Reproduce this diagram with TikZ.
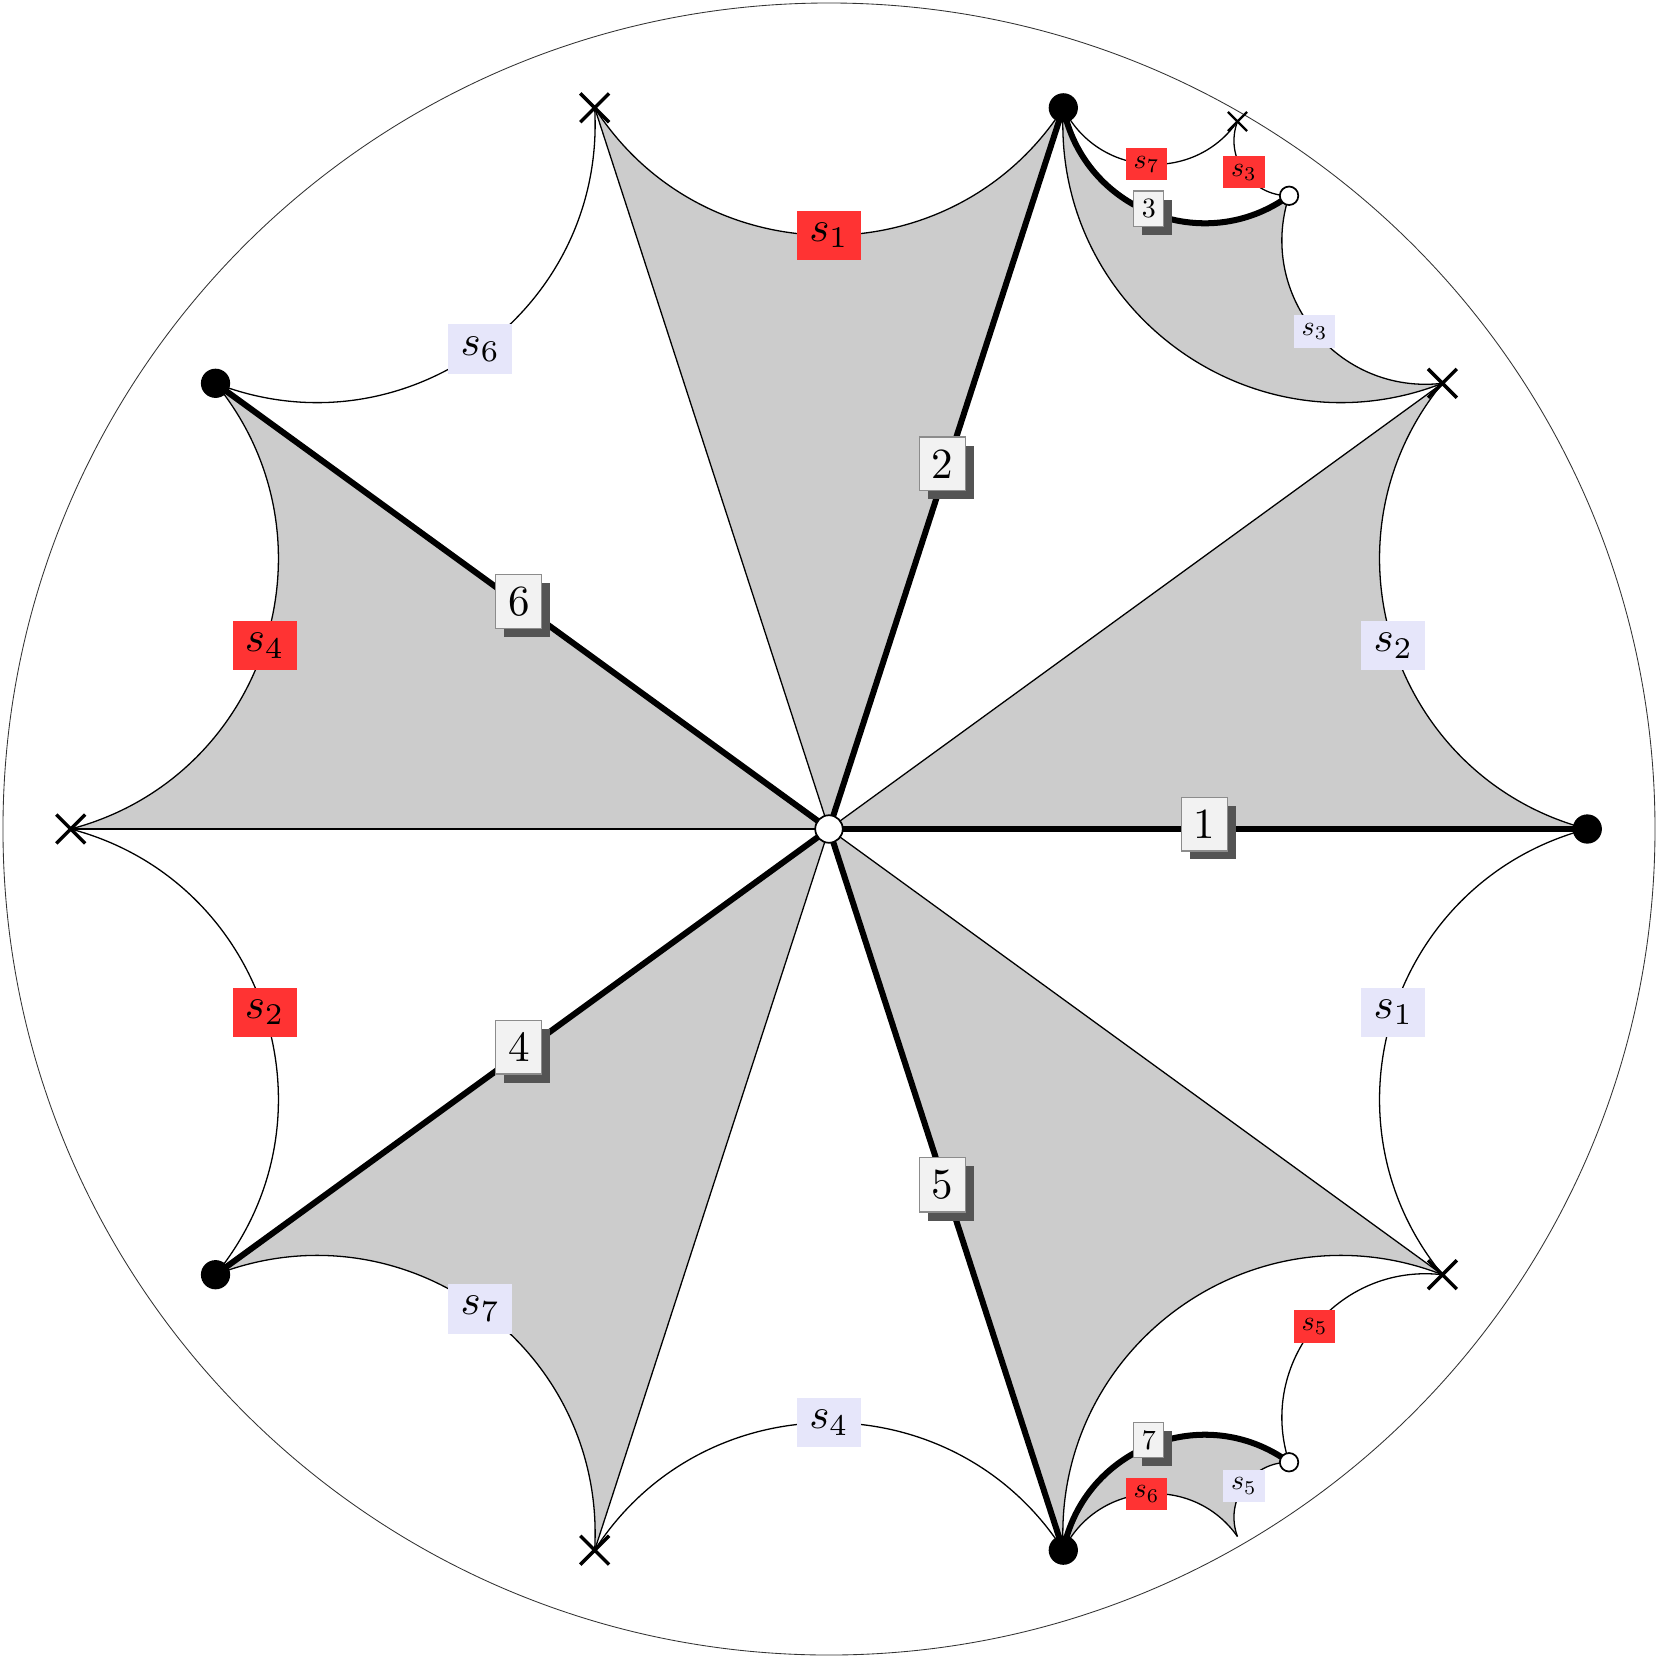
\documentclass[tikz,border=0pt]{standalone}
\usetikzlibrary{shapes.misc,shadows}
\definecolor{sred}{RGB}{255,51,51}
\definecolor{sblue}{RGB}{230,230,250}
\begin{document}
\begin{tikzpicture}[x=6.75cm,y=6.75cm,
  thinl/.style={line width=0.3pt},
  thickl/.style={line width=1.4pt},
  shadeR/.style={fill=black!20},
  geoL/.style={bend left=57.29,looseness=1.1055},
  geoR/.style={bend right=57.29,looseness=1.1055},
  elab/.style={draw=black!45,line width=0.3pt,fill=black!5,inner sep=2.85pt,xshift=-0.8pt,yshift=1.1pt,
     drop shadow={shadow xshift=2pt,shadow yshift=-2pt,fill=black!67,opacity=1}},
  redlab/.style={fill=sred,inner sep=2.85pt},
  bluelab/.style={fill=sblue,inner sep=2.85pt},
  smalllab/.style={scale=0.65,transform shape},
  dotv/.style={circle,fill=black,inner sep=0pt,minimum size=6.8pt},
  whitev/.style={circle,draw,fill=white,line width=0.4pt,inner sep=0pt,minimum size=6.4pt},
  whitevs/.style={circle,draw,fill=white,line width=0.4pt,inner sep=0pt,minimum size=4.3pt},
  crossv/.style={cross out,draw,line width=0.8pt,inner sep=0pt,minimum size=5.9pt},
  crossvs/.style={cross out,draw,line width=0.55pt,inner sep=0pt,minimum size=3.9pt}]
\useasboundingbox (-1.0036,-1.0036) rectangle (1.0036,1.0036);
\coordinate (O) at (0,0);
\foreach \k in {0,...,9} \coordinate (V\k) at ({36*\k}:0.918);
\coordinate (W) at (54:0.9476);
\coordinate (Wp) at (-54:0.9476);
\coordinate (X) at (60:0.989);
\coordinate (Ep) at (-60:0.989);
% shading
\foreach \a/\b in {0/1,2/3,4/5,6/7,8/9}
  \fill[shadeR] (O) -- (V\a) to[geoL] (V\b) -- cycle;
\fill[shadeR] (V1) to[geoL] (V2) to[geoR] (W) to[geoR] (V1) -- cycle;
\fill[shadeR] (V8) to[geoL] (Wp) to[bend right=55.27,looseness=1.0848] (Ep) to[bend right=59.32,looseness=1.1276] (V8) -- cycle;
% outer circle
\draw[line width=0.2pt,black!80] (O) circle[radius=1];
% thin radial lines
\foreach \k in {1,3,5,7,9} \draw[thinl] (O) -- (V\k);
% outer geodesics
\draw[thinl] (V0) to[geoL] node[bluelab]{$s_2$} (V1);
\draw[thinl] (V1) to[geoL] (V2);
\draw[thinl] (V2) to[geoL] node[redlab]{$s_1$} (V3);
\draw[thinl] (V3) to[geoL] node[bluelab]{$s_6$} (V4);
\draw[thinl] (V4) to[geoL] node[redlab]{$s_4$} (V5);
\draw[thinl] (V5) to[geoL] node[redlab]{$s_2$} (V6);
\draw[thinl] (V6) to[geoL] node[bluelab]{$s_7$} (V7);
\draw[thinl] (V7) to[geoL] node[bluelab]{$s_4$} (V8);
\draw[thinl] (V8) to[geoL] (V9);
\draw[thinl] (V9) to[geoL] node[bluelab]{$s_1$} (V0);
% small triangles
\draw[thinl] (W) to[geoR] node[bluelab,smalllab]{$s_3$} (V1);
\draw[thinl] (V2) to[bend right=59.32,looseness=1.1276] node[redlab,smalllab]{$s_7$} (X);
\draw[thinl] (X) to[bend right=55.27,looseness=1.0848] node[redlab,smalllab]{$s_3$} (W);
\draw[thinl] (Wp) to[geoL] node[redlab,smalllab]{$s_5$} (V9);
\draw[thinl] (V8) to[bend left=59.32,looseness=1.1276] node[redlab,smalllab]{$s_6$} (Ep);
\draw[thinl] (Ep) to[bend left=55.27,looseness=1.0848] node[bluelab,smalllab]{$s_5$} (Wp);
% thick edges
\draw[thickl] (O) -- node[elab]{1} (V0);
\draw[thickl] (O) -- node[elab]{2} (V2);
\draw[thickl] (O) -- node[elab]{6} (V4);
\draw[thickl] (O) -- node[elab]{4} (V6);
\draw[thickl] (O) -- node[elab]{5} (V8);
\draw[thickl] (V2) to[geoR] node[elab,smalllab]{3} (W);
\draw[thickl] (V8) to[geoL] node[elab,smalllab]{7} (Wp);
% vertex markers
\foreach \k in {0,2,4,6,8} \node[dotv] (D\k) at (V\k) {};
\foreach \k in {1,3,5,7,9} \node[crossv] (C\k) at (V\k) {};
\node[whitev] (Oc) at (O) {};
\node[whitevs] (Wc) at (W) {};
\node[whitevs] (Wpc) at (Wp) {};
\node[crossvs] (Xc) at (X) {};
\end{tikzpicture}
\end{document}
